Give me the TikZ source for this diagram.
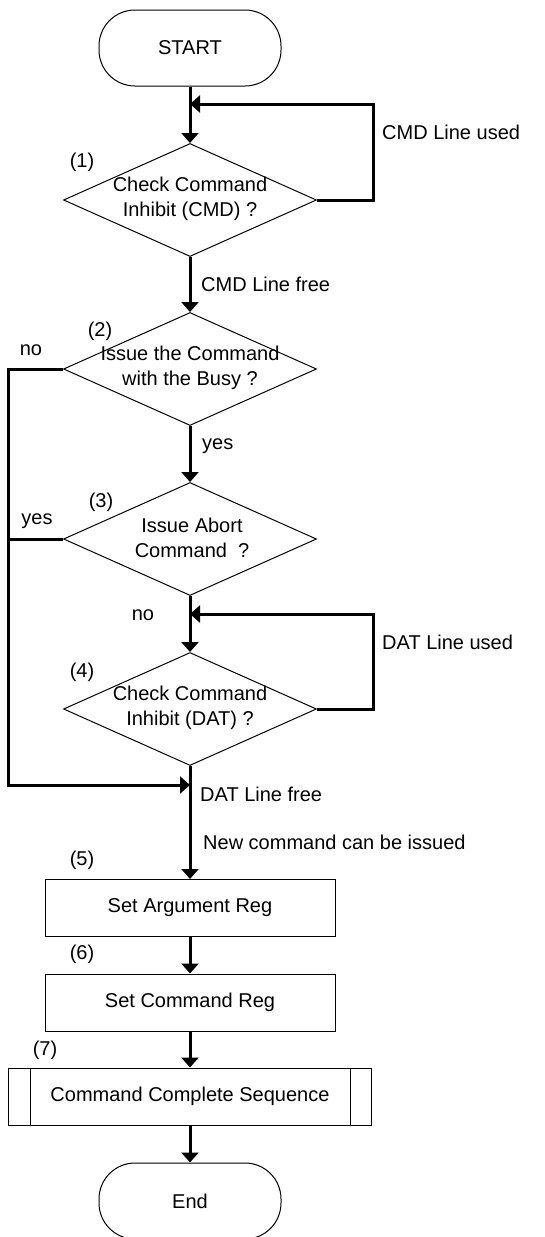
\documentclass[tikz,border=0pt]{standalone}
\usepackage{fontspec}
\setmainfont{Liberation Sans}
\usetikzlibrary{shapes.geometric,arrows.meta,positioning}

\begin{document}
\begin{tikzpicture}[
  x=1pt, y=-1pt,
  font=\fontsize{20}{25}\selectfont,
  every node/.append style={align=center},
  term/.style={rectangle, rounded corners=36pt, draw, line width=1pt, minimum width=182pt, minimum height=76pt},
  dec/.style={diamond, draw, line width=1pt, minimum width=253pt, minimum height=113pt, inner sep=0pt},
  proc/.style={rectangle, draw, line width=1pt, minimum height=57pt, inner sep=0pt},
  txt/.style={inner sep=0pt},
  lab/.style={inner sep=0pt},
  arr/.style={-{Triangle[width=17pt,length=10pt]}, line width=3pt},
  ln/.style={line width=3pt}
]
\useasboundingbox (0,0) rectangle (545,1237);
\node[term] (start) at (190,48) {START};
\node[dec] (d1) at (190,200) {};
\node[txt] (t1) at (190,199) {Check Command\\Inhibit (CMD) ?};
\node[dec] (d2) at (190,369) {};
\node[txt] (t2) at (190,368) {Issue the Command\\with the Busy ?};
\node[dec] (d3) at (190,539) {};
\node[txt] (t3) at (192,538) {Issue Abort\\Command\ \ ?};
\node[dec] (d4) at (190,709) {};
\node[txt] (t4) at (190,708) {Check Command\\Inhibit (DAT) ?};
\node[proc, minimum width=290pt] (b5) at (190,908) {Set Argument Reg};
\node[proc, minimum width=290pt] (b6) at (190,1002.5) {Set Command Reg};
\node[proc, minimum width=363pt] (b7) at (190,1096.5) {Command Complete Sequence};
\node[term] (end) at (190,1201) {End};
\node[lab] (n1) at (82,162) {(1)};
\node[lab] (n2) at (100,331) {(2)};
\node[lab] (n3) at (101,502) {(3)};
\node[lab] (n4) at (82,672) {(4)};
\node[lab] (n5) at (82,860) {(5)};
\node[lab] (n6) at (82,954) {(6)};
\node[lab] (n7) at (45,1050) {(7)};
\node[lab, anchor=west] (used1) at (382,132) {CMD Line used};
\node[lab, anchor=west] (free1) at (201,284) {CMD Line free};
\node[lab] (no2) at (31,350) {no};
\node[lab, anchor=west] (yes2) at (202,446) {yes};
\node[lab] (yes3) at (37,521) {yes};
\node[lab] (no3) at (143,615) {no};
\node[lab, anchor=west] (used4) at (382,642) {DAT Line used};
\node[lab, anchor=west] (free4) at (200,794) {DAT Line free};
\node[lab, anchor=west] (new) at (203,842) {New command can be issued};
\coordinate (j1) at (190,104);
\coordinate (j2) at (190,614);
\coordinate (j3) at (190,785);
\draw[arr] (start) -- (d1);
\draw[arr] (d1.east) -- ++(56,0) |- (j1);
\draw[arr] (d1) -- (d2);
\draw[arr] (d2) -- (d3);
\draw[arr] (d3) -- (d4);
\draw[arr] (d4.east) -- ++(56,0) |- (j2);
\draw[arr] (d2.west) -- ++(-54.5,0) |- (j3);
\draw[ln] (d3.west) -- ++(-54.5,0);
\draw[arr] (d4) -- (b5);
\draw[arr] (b5) -- (b6);
\draw[arr] (b6) -- (b7);
\draw[arr] (b7) -- (end);
\draw[line width=1pt] ([xshift=22pt]b7.north west) -- ([xshift=22pt]b7.south west);
\draw[line width=1pt] ([xshift=-22pt]b7.north east) -- ([xshift=-22pt]b7.south east);
\end{tikzpicture}
\end{document}
